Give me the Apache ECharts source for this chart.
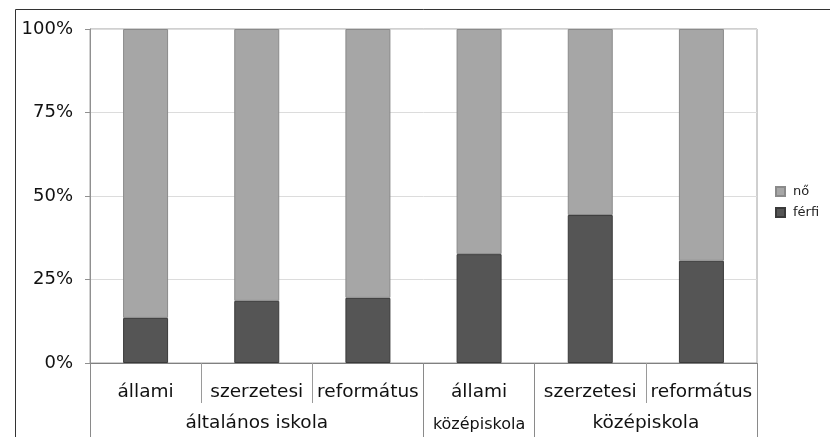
<!DOCTYPE html>
<html>
<head>
<meta charset="utf-8">
<script src="https://cdn.jsdelivr.net/npm/echarts@6/dist/echarts.min.js"></script>
<style>
  html, body { margin: 0; padding: 0; background: #fff; }
  #chart { width: 830px; height: 437px; }
</style>
</head>
<body>
<div id="chart"></div>
<script>
// School types (first label row) and their shares by sex, in percent
const categories = ['állami', 'szerzetesi', 'református', 'állami', 'szerzetesi', 'református'];
const ferfi = [13.5, 18.6, 19.5, 32.6, 44.3, 30.6];
const no = [86.5, 81.4, 80.5, 67.4, 55.7, 69.4];
const yTicks = [0, 25, 50, 75, 100];

// Second label row: school levels, placed at the centre of the columns they span
const groupLabels = [
  { at: 1.5, text: 'általános iskola', small: false },
  { at: 3.5, text: 'középiskola', small: true },
  { at: 5, text: 'középiskola', small: false }
];
const groupBounds = [0, 3, 4, 6];

const FONT = '"DejaVu Sans", "Noto Sans", sans-serif';
const chart = echarts.init(document.getElementById('chart'));

chart.setOption({
  animation: false,
  backgroundColor: '#fff',
  textStyle: { fontFamily: FONT },
  grid: { left: 90, right: 73, top: 29, bottom: 74, show: true, borderColor: '#a0a0a0', borderWidth: 1 },
  legend: {
    orient: 'vertical',
    left: 770,
    top: 180,
    itemWidth: 9,
    itemHeight: 9,
    itemGap: 8,
    icon: 'rect',
    textStyle: { fontSize: 13, color: '#222', fontFamily: FONT, padding: [0, 0, 0, 3] },
    data: ['nő', 'férfi']
  },
  xAxis: [
    {
      type: 'category',
      data: categories,
      position: 'bottom',
      axisLine: { lineStyle: { color: '#808080', width: 1 } },
      axisTick: { show: true, length: 40, lineStyle: { color: '#9a9a9a' } },
      axisLabel: { fontSize: 18.5, color: '#111', margin: 20, fontFamily: FONT, interval: 0 }
    },
    {
      type: 'value',
      min: 0,
      max: 6,
      position: 'bottom',
      axisLine: { show: false },
      splitLine: { show: false },
      axisTick: {
        show: true,
        length: 80,
        customValues: groupBounds,
        lineStyle: { color: '#8a8a8a' }
      },
      axisLabel: {
        show: true,
        margin: 51,
        customValues: groupLabels.map(g => g.at),
        formatter: function (v) {
          const g = groupLabels.find(x => Math.abs(x.at - v) < 1e-6);
          if (!g) return '';
          return g.small ? '{s|' + g.text + '}' : '{b|' + g.text + '}';
        },
        rich: {
          b: { fontSize: 18.5, color: '#111', fontFamily: FONT },
          s: { fontSize: 16, color: '#111', fontFamily: FONT, padding: [3, 0, 0, 0] }
        }
      }
    }
  ],
  yAxis: {
    type: 'value',
    min: 0,
    max: 100,
    interval: 25,
    axisLine: { show: true, lineStyle: { color: '#909090' } },
    axisTick: { show: true, length: 5, lineStyle: { color: '#909090' } },
    splitLine: { show: true, lineStyle: { color: '#dcdcdc', width: 1 } },
    axisLabel: {
      fontSize: 18,
      color: '#111',
      margin: 17,
      fontFamily: FONT,
      formatter: function (v) { return yTicks.indexOf(v) >= 0 ? v + '%' : ''; }
    }
  },
  series: [
    {
      name: 'férfi',
      type: 'bar',
      stack: 'total',
      barWidth: 45,
      data: ferfi,
      itemStyle: { color: '#555555', borderColor: '#3a3a3a', borderWidth: 1 }
    },
    {
      name: 'nő',
      type: 'bar',
      stack: 'total',
      barWidth: 45,
      data: no,
      itemStyle: { color: '#a6a6a6', borderColor: '#8a8a8a', borderWidth: 1 }
    }
  ],
  graphic: [
    {
      type: 'rect',
      silent: true,
      z: 100,
      shape: { x: 15.5, y: 9.5, width: 900, height: 600 },
      style: { fill: 'none', stroke: '#333', lineWidth: 1 }
    }
  ]
});
</script>
</body>
</html>
